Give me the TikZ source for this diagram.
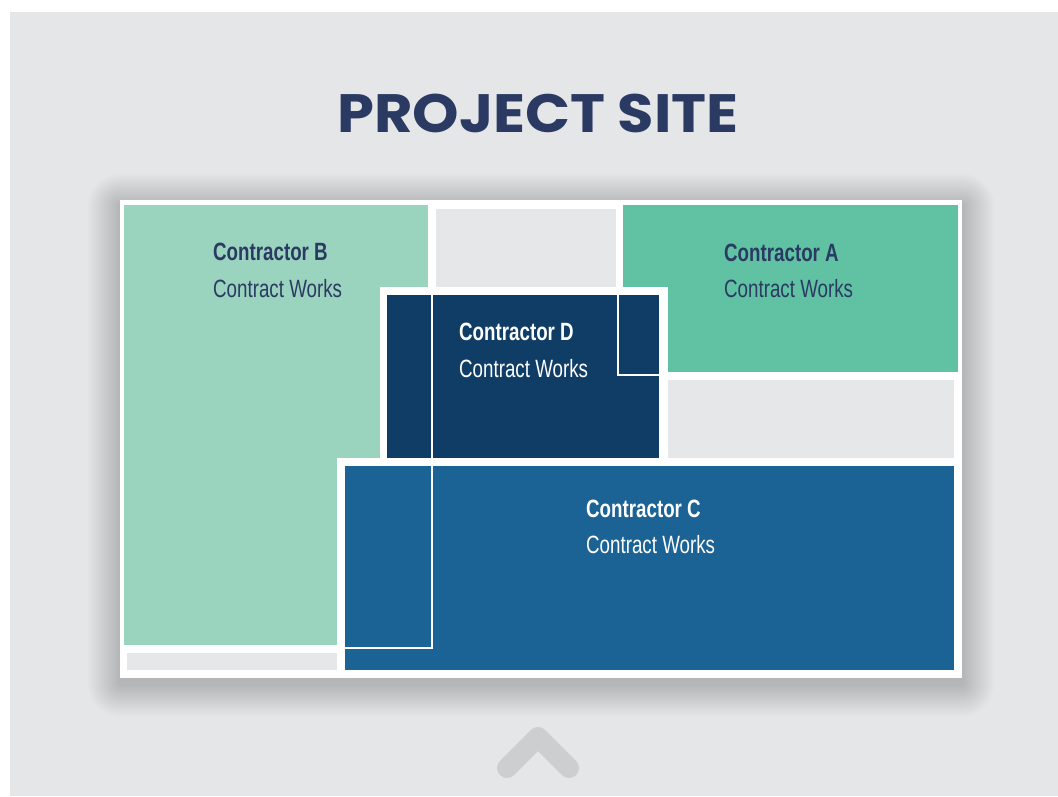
\documentclass[tikz,border=0pt]{standalone}
\usepackage{fontspec}
\newfontfamily\titlefont{Poppins}
\newfontfamily\condfont[FakeStretch=0.75]{Liberation Sans}
\definecolor{bggray}{HTML}{E5E6E8}
\definecolor{cellgray}{HTML}{E6E7E9}
\definecolor{greenB}{HTML}{9AD4BE}
\definecolor{greenA}{HTML}{60C2A2}
\definecolor{navyD}{HTML}{0F3D66}
\definecolor{blueC}{HTML}{1B6295}
\definecolor{ink}{HTML}{2B3A63}
\definecolor{chev}{HTML}{CDCED0}
\tikzset{
  head/.style={anchor=base west, inner sep=0pt, font=\condfont\bfseries\fontsize{25}{30}\selectfont},
  sub/.style={anchor=base west, inner sep=0pt, font=\condfont\fontsize{25}{30}\selectfont},
  overlap/.style={draw=white, line width=2pt},
}
\begin{document}
\begin{tikzpicture}[x=1pt,y=-1pt]
\useasboundingbox (0,0) rectangle (1058,797);
% page background
\fill[white] (0,0) rectangle (1058,797);
\fill[bggray] (10,12) rectangle (1058,796);
% title
\node[inner sep=0pt, anchor=base, text=ink, font=\titlefont\bfseries\fontsize{54}{60}\selectfont] (title) at (538,133) {\scalebox{1.095}[1]{PROJECT SITE}};
% soft shadow under the site frame: stacked translucent layers
\foreach \r in {2,4,...,32}{
  \fill[black, opacity=0.012, rounded corners=\r pt] (120-\r,200-\r+6) rectangle (962+\r,678+\r+6);
}
% site frame
\fill[white] (120,200) rectangle (962,678);
% contractor areas and free plots
\fill[greenB] (124,205) rectangle (428,645);
\fill[greenA] (623,205) rectangle (958,372);
\fill[cellgray] (436,209) rectangle (616,287);
\fill[cellgray] (668,380) rectangle (954,458);
\fill[cellgray] (127,653) rectangle (337,670);
% contractor D
\fill[white] (380,287) rectangle (668,466);
\fill[navyD] (387,295) rectangle (659,458);
% contractor C
\fill[white] (337,458) rectangle (962,678);
\fill[blueC] (345,466) rectangle (954,670);
% outlines of B and A where they run under D and C
\draw[overlap] (432,295) -- (432,648) -- (345,648);
\draw[overlap] (618,295) -- (618,375) -- (659,375);
% labels
\node[head, text=ink] (hB) at (213,260) {Contractor B};
\node[sub, text=ink] (sB) at (213,297) {Contract Works};
\node[head, text=ink] (hA) at (724,261) {Contractor A};
\node[sub, text=ink] (sA) at (724,297) {Contract Works};
\node[head, text=white] (hD) at (459,340) {Contractor D};
\node[sub, text=white] (sD) at (459,377) {Contract Works};
\node[head, text=white] (hC) at (586,517) {Contractor C};
\node[sub, text=white] (sC) at (586,553) {Contract Works};
% scroll-up chevron
\draw[chev, line width=20pt, line cap=round, line join=round] (507,768) -- (538,737) -- (569,768);
\end{tikzpicture}
\end{document}
